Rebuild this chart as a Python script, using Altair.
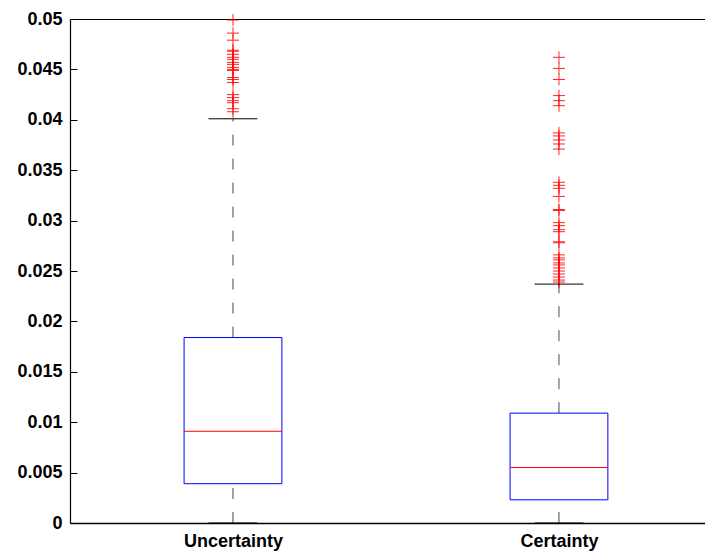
import altair as alt
import pandas as pd

# ---- data ----
categories = ["Uncertainty", "Certainty"]
positions = [1, 2]
q1 = [0.0039, 0.0023]
median = [0.0091, 0.0055]
q3 = [0.0184, 0.0109]
whisker_low = [0.0, 0.0]
whisker_high = [0.0401, 0.0237]

outliers_uncertainty = [0.0499, 0.0486, 0.0479, 0.0469, 0.0468, 0.0465, 0.0462,
                        0.0460, 0.0457, 0.0455, 0.0452, 0.0450, 0.0449, 0.0442,
                        0.0440, 0.0437, 0.0425, 0.0422, 0.0419, 0.0417, 0.0411,
                        0.0408]
outliers_certainty = [0.0462, 0.0451, 0.0440, 0.0424, 0.0419, 0.0414, 0.0387,
                      0.0384, 0.0380, 0.0376, 0.0371, 0.0338, 0.0335, 0.0332,
                      0.0324, 0.0311, 0.0310, 0.0298, 0.0295, 0.0291, 0.0289,
                      0.0279, 0.0278, 0.0266, 0.0263, 0.0261, 0.0258, 0.0256,
                      0.0253, 0.0250, 0.0247, 0.0244, 0.0241, 0.0239]

y_ticks = [0, 0.005, 0.01, 0.015, 0.02, 0.025, 0.03, 0.035, 0.04, 0.045, 0.05]

# ---- tables ----
BOX_HALF = 0.15
CAP_HALF = 0.075
stats = pd.DataFrame({
    "cat": categories, "pos": positions, "q1": q1, "median": median,
    "q3": q3, "wlo": whisker_low, "whi": whisker_high,
})
stats["box_l"] = stats["pos"] - BOX_HALF
stats["box_r"] = stats["pos"] + BOX_HALF
stats["cap_l"] = stats["pos"] - CAP_HALF
stats["cap_r"] = stats["pos"] + CAP_HALF

out_rows = []
for p, vals in zip(positions, [outliers_uncertainty, outliers_certainty]):
    for v in vals:
        out_rows.append({"pos": p, "value": v})
outliers = pd.DataFrame(out_rows)

W, H = 635, 504
xscale = alt.Scale(domain=[0.5, 2.448], nice=False, zero=False)
yscale = alt.Scale(domain=[0, 0.05], nice=False, zero=False)

label_expr = " : ".join(
    f"datum.value == {p} ? '{c}'" for p, c in zip(positions, categories)
) + " : ''"

x_main = alt.Axis(values=positions, labelExpr=label_expr, tickSize=0,
                  labelPadding=9, title=None, orient="bottom", domainWidth=1.5)
y_main = alt.Axis(values=y_ticks, format="~g", tickSize=0, labelPadding=8,
                  title=None, orient="left", domainWidth=1.2)

x_top = alt.Axis(orient="top", labels=False, ticks=False, title=None,
                 domainWidth=1.2)
y_inner = alt.Axis(orient="right", offset=-W, values=y_ticks, labels=False,
                   domain=False, tickSize=7, title=None)

dash = [11, 13]
whisk_color = "#333333"

whisk_up = alt.Chart(stats).mark_rule(strokeDash=dash, color=whisk_color,
                                      strokeWidth=0.9).encode(
    x=alt.X("pos:Q", scale=xscale, axis=x_main),
    y=alt.Y("q3:Q", scale=yscale, axis=y_main),
    y2="whi:Q",
)

pts = alt.Chart(outliers).mark_point(
    shape="M-1,0L1,0M0,-1L0,1", filled=False, color="#ff0000",
    size=144, strokeWidth=1, opacity=0.85,
).encode(
    x=alt.X("pos:Q", scale=xscale, axis=x_top),
    y=alt.Y("value:Q", scale=yscale, axis=y_inner),
)

whisk_dn = alt.Chart(stats).mark_rule(strokeDash=dash, color=whisk_color,
                                      strokeWidth=0.9).encode(
    x=alt.X("pos:Q", scale=xscale, axis=None),
    y=alt.Y("wlo:Q", scale=yscale, axis=None),
    y2="q1:Q",
)

caps_hi = alt.Chart(stats).mark_rule(color="#000000", strokeWidth=1).encode(
    x=alt.X("cap_l:Q", scale=xscale, axis=None),
    x2="cap_r:Q",
    y=alt.Y("whi:Q", scale=yscale, axis=None),
)

caps_lo = alt.Chart(stats).mark_rule(color="#000000", strokeWidth=1).encode(
    x=alt.X("cap_l:Q", scale=xscale, axis=None),
    x2="cap_r:Q",
    y=alt.Y("wlo:Q", scale=yscale, axis=None),
)

boxes = alt.Chart(stats).mark_rect(
    fillOpacity=0, stroke="#0000ff", strokeWidth=1
).encode(
    x=alt.X("box_l:Q", scale=xscale, axis=None),
    x2="box_r:Q",
    y=alt.Y("q1:Q", scale=yscale, axis=None),
    y2="q3:Q",
)

medians = alt.Chart(stats).mark_rule(color="#ff0000", strokeWidth=1).encode(
    x=alt.X("box_l:Q", scale=xscale, axis=None),
    x2="box_r:Q",
    y=alt.Y("median:Q", scale=yscale, axis=None),
)

chart = alt.layer(
    whisk_up, pts, whisk_dn, caps_hi, caps_lo, boxes, medians
).resolve_axis(x="independent", y="independent").properties(
    width=W, height=H,
    autosize=alt.AutoSizeParams(type="none"),
    padding={"left": 62, "top": 11, "right": 0, "bottom": 31},
    background="white",
).configure_view(stroke=None).configure_axis(
    grid=False,
    labelFont="Liberation Sans", labelFontSize=18, labelFontWeight="bold",
    labelColor="#000000", domainColor="#000000", tickColor="#000000",
)

chart.save("out.html", embed_options={"renderer": "svg", "actions": False})
